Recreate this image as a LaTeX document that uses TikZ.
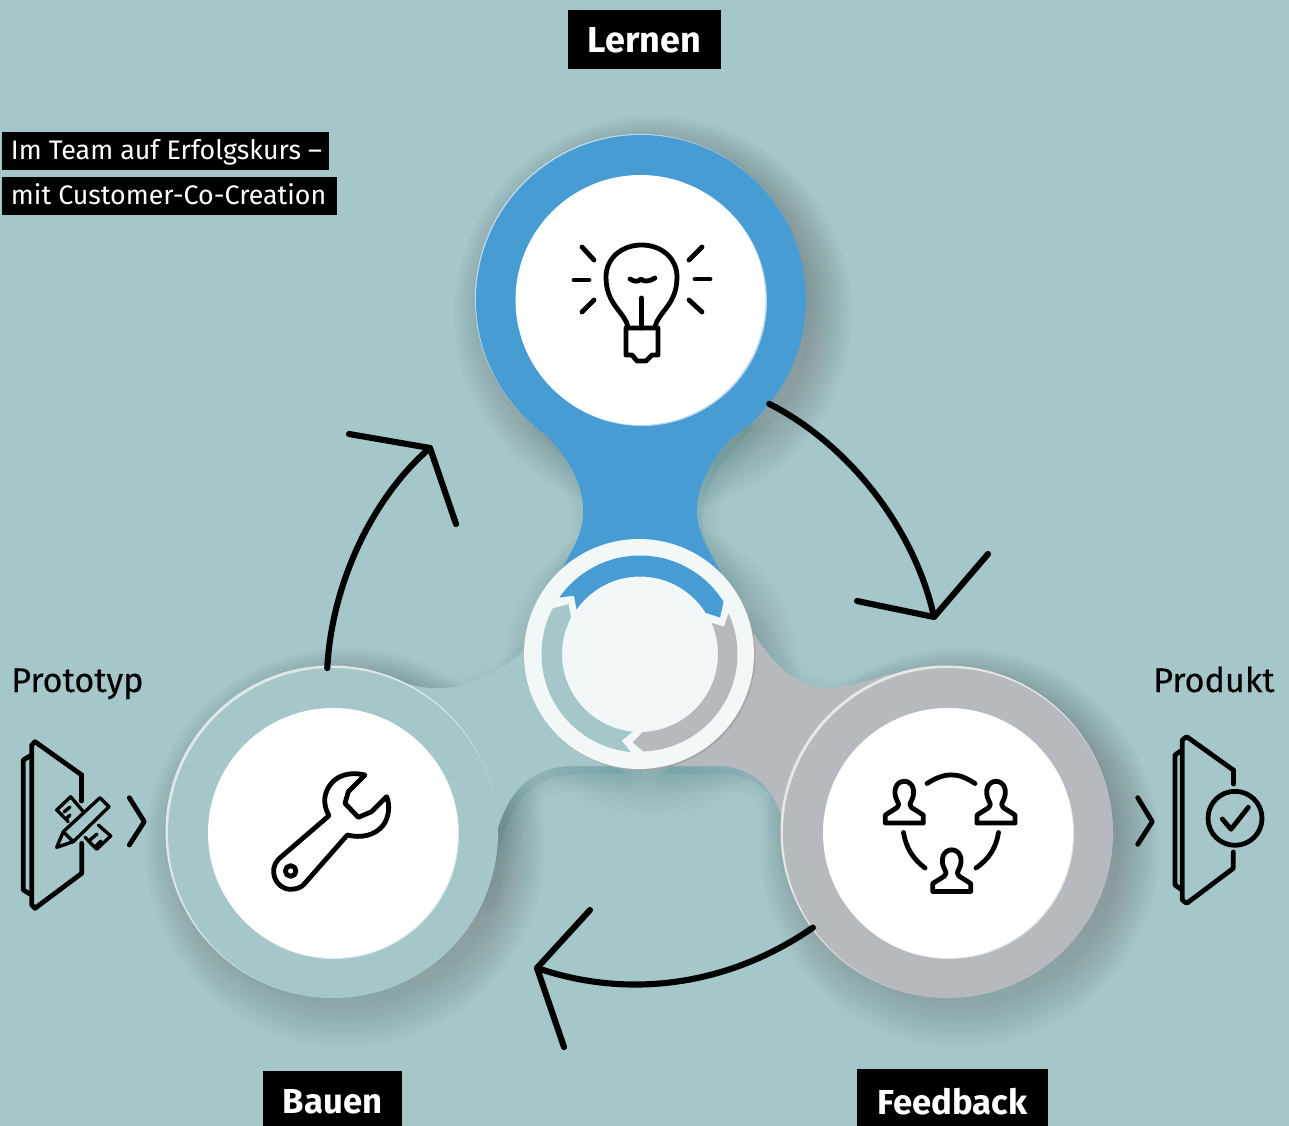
\documentclass[tikz,border=0pt]{standalone}
\usepackage{fontspec}
\setmainfont{Fira Sans}
\definecolor{bg}{HTML}{A6C7CA}
\definecolor{bgl}{HTML}{BAD5D6}
\definecolor{bluec}{HTML}{479CD4}
\definecolor{greyc}{HTML}{B6B9BE}
\definecolor{hubc}{HTML}{F2F7F8}
\definecolor{shade}{HTML}{1E5F63}
\tikzset{
 x=0.75pt,y=-0.75pt,
 ring/.style={circle,minimum size=247.5pt,inner sep=0pt,outer sep=0pt},
 disc/.style={circle,fill=white,minimum size=187.5pt,inner sep=0pt,outer sep=0pt},
 flow/.style={draw=black,line width=4.6pt,line cap=round,line join=round},
 icon/.style={draw=black,line width=3.6pt,line cap=round,line join=round},
 thinicon/.style={draw=black,line width=2.5pt,line cap=round,line join=round},
 bigbox/.style={fill=black,text=white,font=\fontsize{26}{30}\selectfont\bfseries,inner sep=0pt,outer sep=0pt},
 tagbox/.style={fill=black,text=white,anchor=west,inner ysep=0pt,inner xsep=0pt,outer sep=0pt,minimum height=28.5pt,text height=16pt,text depth=2.5pt},
 side/.style={text=black,inner sep=0pt,font=\fontsize{25.6}{30}\selectfont\addfontfeature{FakeBold=0.3}},
}
\newcommand\softshadow[4]{% cx cy r opacity
 \foreach \k in {-6,-2,...,34}{\fill[shade,opacity=#4] (#1+12,#2+15) circle[radius=#3+\k];}}
\newcommand\neckshadow[1]{%
 \foreach \k in {6,12,...,36}{\path[draw=shade,fill=shade,opacity=.012,line join=round,line width=\k*0.75pt,shift={(5,8)}] #1;}}
\def\bluepath{(533,420) .. controls (565,452) and (585,482) .. (583,515) .. controls (582,535) and (572,552) .. (555,580) -- (725,580) .. controls (710,552) and (697,535) .. (697,510) .. controls (697,482) and (715,452) .. (748,420) -- (640,320) -- cycle}
\def\greypath{(745,618) .. controls (770,665) and (800,690) .. (830,688) .. controls (850,687) and (870,680) .. (890,674) -- (880,780) -- (800,880) .. controls (785,850) and (790,770) .. (720,766) -- (660,766) -- cycle}
\def\lightpath{(525,650) .. controls (490,680) and (460,690) .. (430,688) .. controls (410,686) and (395,680) .. (375,674) -- (400,800) -- (480,890) .. controls (497,860) and (490,770) .. (570,766) -- (620,766) -- cycle}
\newcommand\person[2]{%
 \draw[icon,shift={(#1,#2)},x=0.25pt,y=-0.25pt]
 (-57,0) -- (57,0) -- (57,-24) -- (22,-46) .. controls (15,-50) and (16,-58) .. (22,-68) .. controls (36,-95) and (25,-125) .. (0,-125) .. controls (-25,-125) and (-36,-95) .. (-22,-68) .. controls (-16,-58) and (-15,-50) .. (-22,-46) -- (-57,-24) -- cycle;}
\begin{document}
\begin{tikzpicture}
\useasboundingbox (0,0) rectangle (1289,1126);
% background
\fill[bg] (0,0) rectangle (1289,1126);
\begin{scope}
 \clip (0,0) rectangle (1289,1126);
 \foreach \k in {20,30,...,220}{\fill[bgl,opacity=.04] (1300,110) ellipse[x radius=\k,y radius=\k*1.6];}
\end{scope}
% shadows
\softshadow{641}{300}{165}{.02}
\softshadow{333}{833}{166}{.02}
\softshadow{948}{833}{166}{.02}
\softshadow{639}{654}{115}{.008}
\neckshadow{\bluepath}
\neckshadow{\greypath}
\neckshadow{\lightpath}
% arms
\fill[bluec] \bluepath;
\fill[greyc] \greypath;
\fill[bg] \lightpath;
% rims
\fill[bluec!35!white] (640,299) circle[radius=165];
\fill[bg!40!white] (331.5,831.5) circle[radius=166];
\fill[greyc!35!white] (946.5,831.5) circle[radius=166];
% rings
\node[ring,fill=bluec] (blueRing) at (641,300) {};
\node[ring,fill=bg] (lightRing) at (333,833) {};
\node[ring,fill=greyc] (greyRing) at (948,833) {};
% inner discs
\fill[bluec!40!white] (642,301) circle[radius=125];
\fill[bg!40!white] (334,834) circle[radius=125];
\fill[greyc!40!white] (949,834) circle[radius=125];
\node[disc] (bulbDisc) at (640.5,300) {};
\node[disc] (toolDisc) at (333,833) {};
\node[disc] (teamDisc) at (948,833) {};
% hub
\fill[black!35] (640.5,655.5) circle[radius=115];
\node[circle,fill=hubc,minimum size=172.5pt,inner sep=0pt,outer sep=0pt] (hub) at (639,654) {};
\fill[bluec] plot[domain=215:328,samples=50] ({640+98.5*cos(\x)},{654+98.5*sin(\x)})
 -- (720,617.5) -- (705,612.7)
 -- plot[domain=327.6:215,samples=50] ({640+77.5*cos(\x)},{654+77.5*sin(\x)})
 -- (574,595.7) -- cycle;
\fill[greyc] plot[domain=-24.7:88,samples=50] ({640+97.5*cos(\x)},{654+97.5*sin(\x)})
 -- (632.7,742.3) -- (642.7,732)
 -- plot[domain=88:-23.6,samples=50] ({640+78*cos(\x)},{654+78*sin(\x)})
 -- (724,626.7) -- cycle;
\fill[bg] plot[domain=95.4:207.5,samples=50] ({640+98.5*cos(\x)},{654+98.5*sin(\x)})
 -- (568.3,604) -- (571,617.7)
 -- plot[domain=207.8:95.4,samples=50] ({640+78*cos(\x)},{654+78*sin(\x)})
 -- (621.7,740.7) -- cycle;
% connectors
\coordinate (tipA) at (934,617);
\coordinate (tipB) at (537,968);
\coordinate (tipC) at (430,448);
\coordinate (headA1) at (857,601);
\coordinate (headA2) at (988,554);
\coordinate (headB1) at (590,910);
\coordinate (headB2) at (564,1047);
\coordinate (headC1) at (349,434);
\coordinate (headC2) at (456,524);
\draw[flow] (blueRing.-39) .. controls (850,445) and (915,530) .. (tipA);
\draw[flow] (headA1) -- (tipA) -- (headA2);
\draw[flow] (greyRing.215) .. controls (730,985) and (630,1000) .. (tipB);
\draw[flow] (headB1) -- (tipB) -- (headB2);
\draw[flow] (lightRing.92) .. controls (332,580) and (375,495) .. (tipC);
\draw[flow] (headC1) -- (tipC) -- (headC2);
% bulb icon
\draw[icon] (628,327) .. controls (625,312) and (606,305) .. (606,277) .. controls (606,258) and (622,245) .. (641.7,245) .. controls (661,245) and (677,258) .. (677,277) .. controls (677,305) and (658,312) .. (655,327);
\draw[icon] (626,328) -- (658,328) -- (658,355) -- (652,355) -- (646,361) -- (637,361) -- (632,355) -- (626,355) -- cycle;
\draw[icon] (641.7,298) -- (641.7,328);
\draw[icon] (630,279) .. controls (635,282) and (638,282) .. (641,279) .. controls (644,282) and (648,282) .. (655,278);
\draw[icon] (582,247) -- (594,260);
\draw[icon] (574,280) -- (589,280);
\draw[icon] (582,312) -- (594,300);
\draw[icon] (702,247) -- (689,260);
\draw[icon] (695,279) -- (710,279);
\draw[icon] (702,312) -- (689,300);
% wrench icon
\draw[icon,shift={(260,760)},x=0.25pt,y=-0.25pt]
 (315,45) .. controls (250,30) and (205,60) .. (195,110) .. controls (192,135) and (198,150) .. (207,167) -- (55,298) .. controls (25,330) and (45,385) .. (90,388) .. controls (110,388) and (122,382) .. (130,375) -- (262,225) .. controls (300,235) and (345,228) .. (370,195) .. controls (388,170) and (390,135) .. (380,110) -- (335,155) -- (295,172) -- (255,130) -- (265,95) -- cycle;
\draw[icon,shift={(260,760)},x=0.25pt,y=-0.25pt] (92,333) circle[radius=16];
% team icon
\person{904.3}{823}
\person{996}{823}
\person{951.7}{891.5}
\draw[icon] (927,783.5) .. controls (945,772) and (958,772) .. (975,783.5);
\draw[icon] (903.5,832.5) .. controls (906,848) and (913,859) .. (925,868);
\draw[icon] (998.5,832.5) .. controls (996,848) and (989,859) .. (976,868);
% prototype icon
\draw[icon] (81.7,775) -- (35,741.7) -- (31.7,745) -- (31.7,905) -- (35,908.3) -- (81.7,873.3) -- (81.7,843.3);
\draw[icon] (81.7,775) -- (81.7,801);
\draw[icon] (30,756) -- (23.3,760) -- (23.3,890) -- (30,894);
\draw[thinicon] (83.3,811.7) -- (70.7,796.7) -- (56.7,810) -- (68.3,821.7);
\draw[thinicon] (98.3,825) -- (110.7,836) -- (96.7,849.3) -- (85,837.3);
\draw[thinicon] (64,812) -- (70,807);
\draw[thinicon] (67,818) -- (70,815);
\draw[thinicon] (90,840) -- (97,834);
\draw[thinicon] (96,846) -- (101,841);
\draw[thinicon] (56.7,847.3) -- (63.3,831.7) -- (100,797.7) -- (109,806.7) -- (73.3,841.7) -- cycle;
\draw[thinicon] (63.3,831.7) -- (73.3,841.7);
\draw[icon] (129.3,797.7) -- (144.3,821.7) -- (129.3,845);
% product icon
\draw[icon] (1233.3,770) -- (1186.7,736.7) -- (1182.3,740) -- (1182.3,900) -- (1186.7,903.3) -- (1233.3,868.3) -- (1233.3,852);
\draw[icon] (1233.3,770) -- (1233.3,784);
\draw[icon] (1180.7,751) -- (1175,755) -- (1175,885) -- (1180.7,889);
\draw[icon] (1235,818.3) circle[radius=27];
\draw[icon] (1222.3,819) -- (1231,829.3) -- (1248.3,807.3);
\draw[icon] (1137.7,797.7) -- (1152.3,821.7) -- (1137.7,844.3);
% labels
\node[bigbox,font=\fontsize{27}{30}\selectfont\bfseries,minimum width=114.75pt,minimum height=44.25pt,text height=24pt,text depth=4pt] (lernen) at (644.5,39.5) {Lernen};
\node[bigbox,minimum width=104.25pt,minimum height=41.25pt,text height=24pt,text depth=1pt] (bauen) at (332.5,1098.5) {Bauen};
\node[bigbox,minimum width=143.25pt,minimum height=42.75pt,text height=26pt,text depth=1pt] (feedback) at (952.5,1097.5) {Feedback};
\node[tagbox,font=\fontsize{20.1}{24}\selectfont] (tagA) at (2,151) {\makebox[245.25pt][l]{\hspace{6.75pt}Im Team auf Erfolgskurs –}};
\node[tagbox,font=\fontsize{20.1}{24}\selectfont] (tagB) at (2,196) {\makebox[251.25pt][l]{\hspace{6.75pt}mit Customer-Co-Creation}};
\node[side,anchor=base west] (proto) at (11,692) {Prototyp};
\node[side,anchor=base west] (prod) at (1153,692) {Produkt};
\end{tikzpicture}
\end{document}
